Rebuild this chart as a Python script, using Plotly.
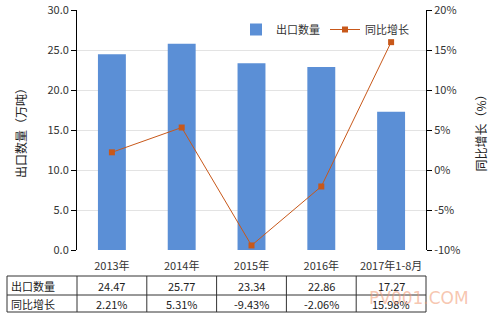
import plotly.graph_objects as go

categories = ["2013年", "2014年", "2015年", "2016年", "2017年1-8月"]
export_qty = [24.47, 25.77, 23.34, 22.86, 17.27]
yoy_growth = [2.21, 5.31, -9.43, -2.06, 15.98]
qty_labels = ["24.47", "25.77", "23.34", "22.86", "17.27"]
growth_labels = ["2.21%", "5.31%", "-9.43%", "-2.06%", "15.98%"]
left_ticks = [0, 5, 10, 15, 20, 25, 30]
right_ticks = [-10, -5, 0, 5, 10, 15, 20]

FONT = "Noto Sans CJK SC"
BAR_COLOR = "#5B8FD6"
LINE_COLOR = "#C8581A"

fig = go.Figure()
fig.add_trace(go.Bar(x=categories, y=export_qty, name="出口数量",
                     marker=dict(color=BAR_COLOR, line=dict(width=0)),
                     width=0.4, yaxis="y"))
fig.add_trace(go.Scatter(x=categories, y=yoy_growth, name="同比增长",
                         mode="lines+markers", yaxis="y2",
                         line=dict(color=LINE_COLOR, width=1),
                         marker=dict(symbol="square", size=6, color=LINE_COLOR)))

L, R, T, B = 77, 65, 10, 75
W, H = 491, 325
pw = W - L - R
ph = H - T - B

def py(p):
    return (H - B - p) / ph

def px(p):
    return (p - L) / pw

shapes = []
annotations = []
line_style = dict(color="#333333", width=1)
top, mid, bot = py(276), py(295), py(312)
left = px(7)
for yv in (top, mid, bot):
    shapes.append(dict(type="line", xref="paper", yref="paper", x0=left, x1=1, y0=yv, y1=yv, line=line_style))
shapes.append(dict(type="line", xref="paper", yref="paper", x0=left, x1=left, y0=top, y1=bot, line=line_style))
for k in range(len(categories) + 1):
    xv = k / len(categories)
    shapes.append(dict(type="line", xref="paper", yref="paper", x0=xv, x1=xv, y0=top, y1=bot, line=line_style))

row1 = (top + mid) / 2
row2 = (mid + bot) / 2
for lbl, yv in (("出口数量", row1), ("同比增长", row2)):
    annotations.append(dict(text=lbl, xref="paper", yref="paper", x=px(9), y=yv,
                            xanchor="left", yanchor="middle", showarrow=False,
                            font=dict(family=FONT, size=11, color="#222222")))
for i, c in enumerate(categories):
    annotations.append(dict(text=qty_labels[i], xref="x", yref="paper", x=c, y=row1,
                            xanchor="center", yanchor="middle", showarrow=False,
                            font=dict(family=FONT, size=11, color="#222222")))
    annotations.append(dict(text=growth_labels[i], xref="x", yref="paper", x=c, y=row2,
                            xanchor="center", yanchor="middle", showarrow=False,
                            font=dict(family=FONT, size=11, color="#222222")))

annotations.append(dict(text="PV001.COM", xref="paper", yref="paper", x=px(419), y=py(298),
                        xanchor="center", yanchor="middle", showarrow=False,
                        font=dict(family="DejaVu Sans", size=17, color="rgba(240,150,110,0.55)")))

fig.update_layout(
    width=W, height=H,
    margin=dict(l=L, r=R, t=T, b=B, pad=0, autoexpand=False),
    paper_bgcolor="white", plot_bgcolor="white",
    font=dict(family=FONT, size=11, color="#333333"),
    showlegend=True,
    legend=dict(orientation="h", x=px(236), y=py(15), xanchor="left", yanchor="top",
                bgcolor="rgba(0,0,0,0)", font=dict(family=FONT, size=11, color="#333333"),
                itemwidth=30, traceorder="normal"),
    bargap=0.6,
    xaxis=dict(type="category", showline=False, showgrid=False, ticks="outside", ticklen=6,
               tickcolor="rgba(0,0,0,0)",
               tickfont=dict(family=FONT, size=11, color="#333333")),
    yaxis=dict(range=[0, 30], tickvals=left_ticks, ticktext=[f"{v:.1f}" for v in left_ticks],
               showline=True, linecolor="#000000", linewidth=1, ticks="outside", ticklen=5,
               tickcolor="#000000", showgrid=True, gridcolor="#E3E3E3", gridwidth=1,
               zeroline=False, title=dict(text="出口数量（万吨）", standoff=18,
                                          font=dict(family=FONT, size=12, color="#222222"))),
    yaxis2=dict(range=[-10, 20], tickvals=right_ticks, ticktext=[f"{v}%" for v in right_ticks],
                overlaying="y", side="right", showline=True, linecolor="#000000", linewidth=1,
                ticks="outside", ticklen=5, tickcolor="#000000", showgrid=False, zeroline=False,
                title=dict(text="同比增长（%）", standoff=18,
                           font=dict(family=FONT, size=12, color="#222222"))),
    shapes=shapes, annotations=annotations,
)

fig.write_html("out.html")
